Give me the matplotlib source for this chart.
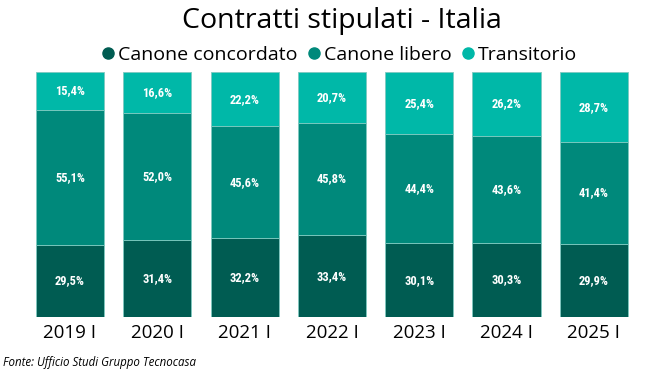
from matplotlib import pyplot as plt
import numpy as np

years = ['2019 I', '2020 I', '2021 I', '2022 I', '2023 I', '2024 I', '2025 I']
concordato = [29.5, 31.4, 32.2, 33.4, 30.1, 30.3, 29.9]
libero = [55.1, 52.0, 45.6, 45.8, 44.4, 43.6, 41.4]
transitorio = [15.4, 16.6, 22.2, 20.7, 25.4, 26.2, 28.7]

series = [('Canone concordato', concordato, '#005c52'),
          ('Canone libero', libero, '#00897b'),
          ('Transitorio', transitorio, '#00b8a8')]

fig = plt.figure(figsize=(6.65, 3.73), dpi=100)
ax = fig.add_axes([0.0396, 0.150, 0.919, 0.657])

x = np.arange(len(years))
bottom = np.zeros(len(years))
for name, vals, col in series:
    vals = np.array(vals)
    ax.bar(x, vals, 0.78, bottom=bottom, color=col, edgecolor='#7fc9c0', linewidth=0.6)
    for xi, b, v in zip(x, bottom, vals):
        ax.text(xi, b + v / 2, f'{v:.1f}%'.replace('.', ','), ha='center', va='center',
                color='white', fontsize=9, fontweight='bold', family='Roboto Condensed')
    bottom += vals

ax.set_xlim(-0.5, len(years) - 0.5)
ax.set_ylim(0, 100)
ax.set_xticks(x)
ax.set_xticklabels(years, fontsize=13.5, family='Open Sans')
ax.tick_params(axis='x', length=0, pad=5)
ax.set_yticks([])
for s in ax.spines.values():
    s.set_visible(False)

fig.text(0.514, 0.945, 'Contratti stipulati - Italia', ha='center', va='center',
         fontsize=20.5, family='Open Sans')

leg = ax.legend([plt.Line2D([], [], marker='o', ls='', color=c, markersize=8) for _, _, c in series],
                [n for n, _, _ in series], loc='center', bbox_to_anchor=(0.508, 0.852),
                bbox_transform=fig.transFigure, ncol=3, frameon=False,
                prop={'family': 'Open Sans', 'size': 14}, handletextpad=0.0,
                columnspacing=0.35, handlelength=1.0)

fig.text(0.005, 0.027, 'Fonte: Ufficio Studi Gruppo Tecnocasa', ha='left', va='center',
         fontsize=8.3, style='italic', family='Open Sans')

fig.savefig('out.png', dpi=100)
